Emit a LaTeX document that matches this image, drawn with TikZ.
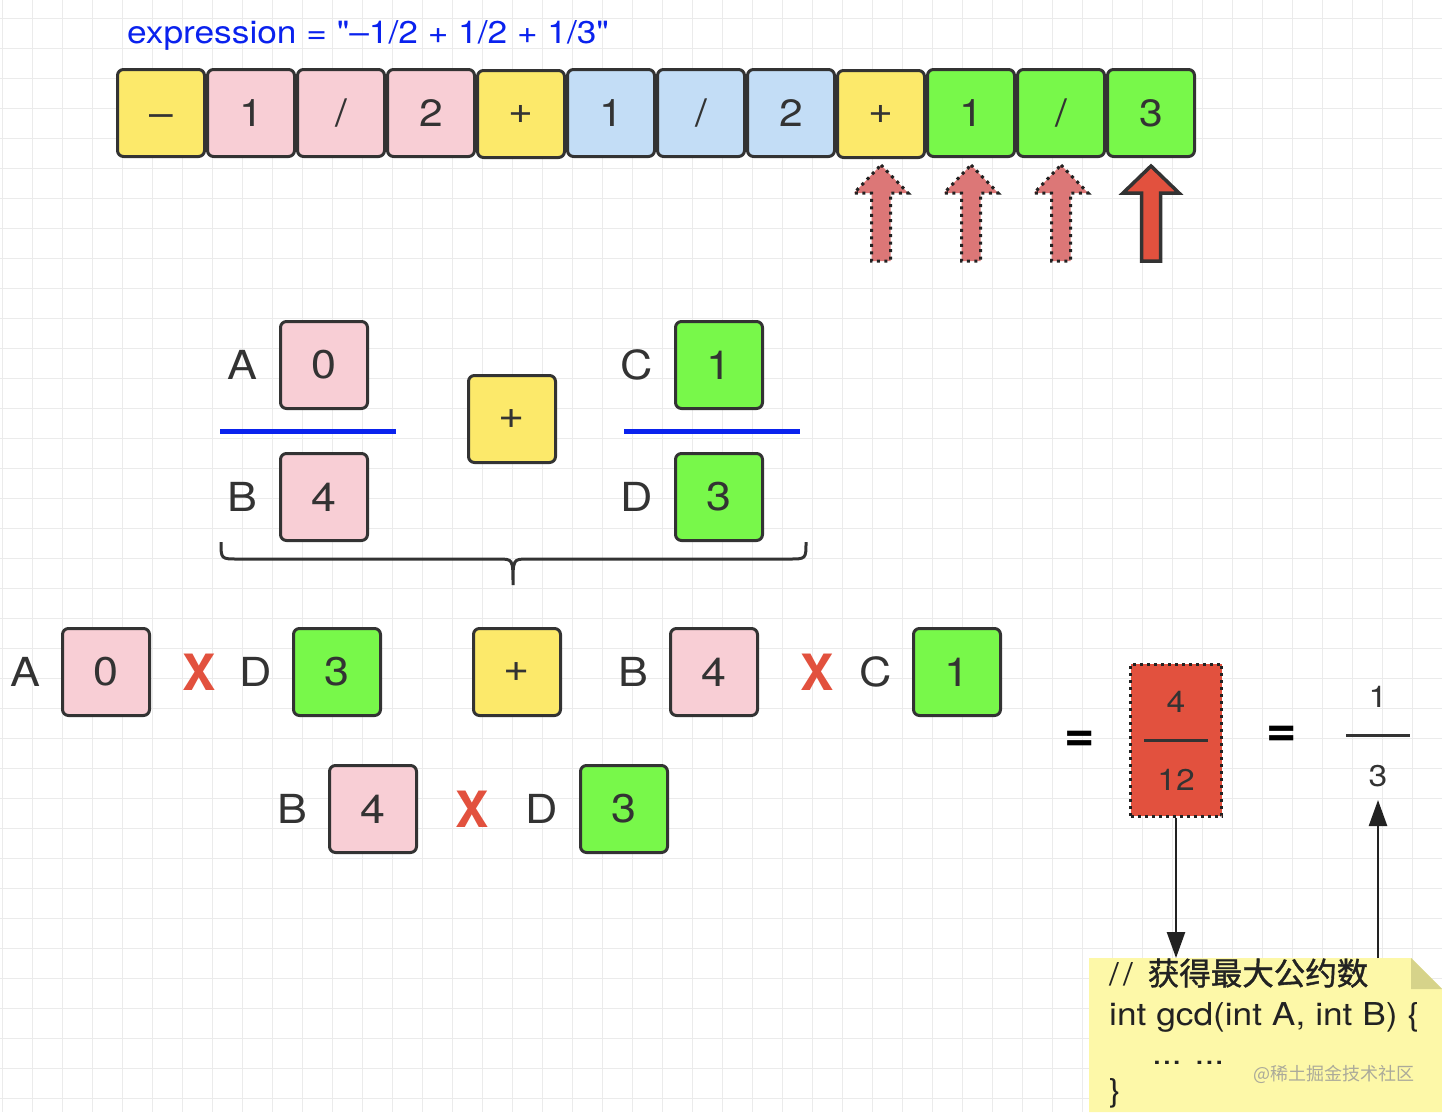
\documentclass[tikz,border=0pt]{standalone}
\usepackage{fontspec}
\setmainfont[FakeStretch=1.12]{TeX Gyre Heros}
\newfontfamily\titlefont[FakeStretch=1.12,Ligatures=TeXOff]{TeX Gyre Heros}
\newfontfamily\plainsans{TeX Gyre Heros}
\newfontfamily\cjk{Noto Sans CJK SC}
\newfontfamily\cjkb[FakeBold=1.2]{Noto Sans CJK SC}
\usetikzlibrary{arrows.meta,calc}
\definecolor{ink}{HTML}{333333}
\definecolor{dark}{HTML}{222222}
\definecolor{gridc}{HTML}{EBEBEB}
\definecolor{cy}{HTML}{FCE96A}
\definecolor{cp}{HTML}{F8CED5}
\definecolor{cb}{HTML}{C3DDF6}
\definecolor{cg}{HTML}{78F84A}
\definecolor{xred}{HTML}{E2513E}
\definecolor{ghost}{HTML}{DC7777}
\definecolor{exblue}{HTML}{0A22EE}
\definecolor{notey}{HTML}{FDF8A8}
\definecolor{foldc}{HTML}{D6D38A}
\definecolor{wmc}{HTML}{ABAA9A}
\tikzset{
  gridline/.style={draw=gridc, line width=1pt},
  cell/.style={draw=ink, line width=3pt, rounded corners=6pt, minimum width=87pt,
    minimum height=87pt, inner sep=0pt, text=ink, font=\fontsize{40}{40}\selectfont},
  topcell/.style={cell, font=\fontsize{38}{38}\selectfont},
  lbl/.style={text=ink, inner sep=0pt, font=\fontsize{40}{40}\selectfont},
  times/.style={text=xred, inner sep=0pt, font=\plainsans\bfseries\fontsize{50}{50}\selectfont},
  eqsign/.style={text=black, inner sep=0pt, font=\plainsans\bfseries\fontsize{52}{52}\selectfont},
  fracnum/.style={text=ink, inner sep=0pt, font=\fontsize{30}{30}\selectfont},
  fracbar/.style={draw=ink, line width=3pt},
  blueline/.style={draw=exblue, line width=5pt},
  ghostarrow/.style={fill=ghost, draw=dark, line width=3pt, dash pattern=on 3pt off 4.5pt},
  realarrow/.style={fill=xred, draw=ink, line width=3.5pt, line join=miter},
  bracesty/.style={draw=ink, line width=3pt},
  conn/.style={draw=dark, line width=2.5pt, -{Triangle[length=26pt,width=18pt]}},
  notetext/.style={text=dark, inner sep=0pt, font=\fontsize{31.5}{31.5}\selectfont},
  wmsty/.style={text=wmc, inner sep=0pt, font=\cjk\fontsize{18}{18}\selectfont},
}
\begin{document}
\begin{tikzpicture}[x=1pt,y=-1pt]
\useasboundingbox (0,0) rectangle (1442,1112);
\fill[white] (0,0) rectangle (1442,1112);
\foreach \x in {2,32,...,1442} \draw[gridline] (\x,0) -- (\x,1112);
\foreach \y in {18,48,...,1112} \draw[gridline] (0,\y) -- (1442,\y);

% title
\node[text=exblue, inner sep=0pt, anchor=base west, font=\titlefont\fontsize{31.5}{31.5}\selectfont]
  (title) at (127,43) {expression = "–1/2 + 1/2 + 1/3"};

% top strip
\node[topcell, fill=cy, text height=27pt, text depth=0pt] (t1) at (161,113) {–};
\node[topcell, fill=cp] (t2) at (251,113) {1};
\node[topcell, fill=cp] (t3) at (341,113) {/};
\node[topcell, fill=cp] (t4) at (431,113) {2};
\node[topcell, fill=cy] (t5) at (521,114) {+};
\node[topcell, fill=cb] (t6) at (611,113) {1};
\node[topcell, fill=cb] (t7) at (701,113) {/};
\node[topcell, fill=cb] (t8) at (791,113) {2};
\node[topcell, fill=cy] (t9) at (881,114) {+};
\node[topcell, fill=cg] (t10) at (971,113) {1};
\node[topcell, fill=cg] (t11) at (1061,113) {/};
\node[topcell, fill=cg] (t12) at (1151,113) {3};

% pointer arrows
\foreach \cx in {881,971,1061}
  \filldraw[ghostarrow] (\cx,165) -- ++(27,28) -- ++(-17.5,0) -- ++(0,68) -- ++(-19,0)
    -- ++(0,-68) -- ++(-17.5,0) -- cycle;
\filldraw[realarrow] (1151,166) -- ++(28,27) -- ++(-18.5,0) -- ++(0,68) -- ++(-19,0)
    -- ++(0,-68) -- ++(-18.5,0) -- cycle;

% fractions A/B + C/D
\node[lbl] (lA) at (242,365) {A};
\node[cell, fill=cp] (mA) at (324,365) {0};
\node[lbl] (lB) at (242,497) {B};
\node[cell, fill=cp] (mB) at (324,497) {4};
\draw[blueline] (220,431.5) -- (396,431.5);
\node[cell, fill=cy] (mplus) at (512,419) {+};
\node[lbl] (lC) at (637,365) {C};
\node[cell, fill=cg] (mC) at (719,365) {1};
\node[lbl] (lD) at (637,497) {D};
\node[cell, fill=cg] (mD) at (719,497) {3};
\draw[blueline] (624,431.5) -- (800,431.5);

% brace
\draw[bracesty] (221,542) .. controls (221,559) .. (238,559) -- (498,559)
  .. controls (513,559) .. (513,585) .. controls (513,559) .. (528,559)
  -- (789,559) .. controls (806,559) .. (806,542);

% row 3: A x D + B x C
\node[lbl] (r3A) at (25,672) {A};
\node[cell, fill=cp] (r3a) at (106,672) {0};
\node[times] (r3x1) at (199,672) {X};
\node[lbl] (r3D) at (256,672) {D};
\node[cell, fill=cg] (r3d) at (337,672) {3};
\node[cell, fill=cy] (r3p) at (517,672) {+};
\node[lbl] (r3B) at (633,672) {B};
\node[cell, fill=cp] (r3b) at (714,672) {4};
\node[times] (r3x2) at (817,672) {X};
\node[lbl] (r3C) at (876,672) {C};
\node[cell, fill=cg] (r3c) at (957,672) {1};

% row 4: B x D
\node[lbl] (r4B) at (292,809) {B};
\node[cell, fill=cp] (r4b) at (373,809) {4};
\node[times] (r4x) at (472,809) {X};
\node[lbl] (r4D) at (542,809) {D};
\node[cell, fill=cg] (r4d) at (624,809) {3};

% result
\node[eqsign] (eq1) at (1080,741) {=};
\node[draw=dark, fill=xred, line width=3pt, dash pattern=on 3pt off 4pt,
  minimum width=91pt, minimum height=152pt, inner sep=0pt] (rbox) at (1176,740) {};
\node[fracnum] (r4) at (1176,702) {4};
\draw[fracbar] (1144,740) -- (1208,740);
\node[fracnum] (r12) at (1176,780) {12};
\node[eqsign] (eq2) at (1282,736) {=};
\node[fracnum] (s1) at (1378,697) {1};
\draw[fracbar] (1346,735) -- (1410,735);
\node[fracnum] (s3) at (1378,776) {3};

% note
\fill[notey] (1089,958) -- (1411,958) -- (1442,989) -- (1442,1112) -- (1089,1112) -- cycle;
\fill[foldc] (1411,958) -- (1411,989) -- (1442,989) -- cycle;
\node[inner sep=0pt, minimum width=353pt, minimum height=154pt, anchor=north west]
  (note) at (1089,958) {};
\node[notetext, anchor=base west] (n1) at (1109,985)
  {/\kern4pt/\kern15pt{\cjkb\fontsize{31.5}{31.5}\selectfont 获得最大公约数}};
\node[notetext, anchor=base west] (n2) at (1109,1025) {int gcd(int A, int B) \{};
\node[notetext, anchor=base west] (n3) at (1152,1064) {... ...};
\node[notetext, anchor=base west] (n4) at (1109,1101) {\}};
\node[wmsty, anchor=base west] (wm) at (1253,1080) {@稀土掘金技术社区};

% connectors
\coordinate (tip3) at (1378,800);
\draw[conn] (rbox.south) -- (rbox.south |- note.north);
\draw[conn] (note.north -| tip3) -- (tip3);
\end{tikzpicture}
\end{document}
